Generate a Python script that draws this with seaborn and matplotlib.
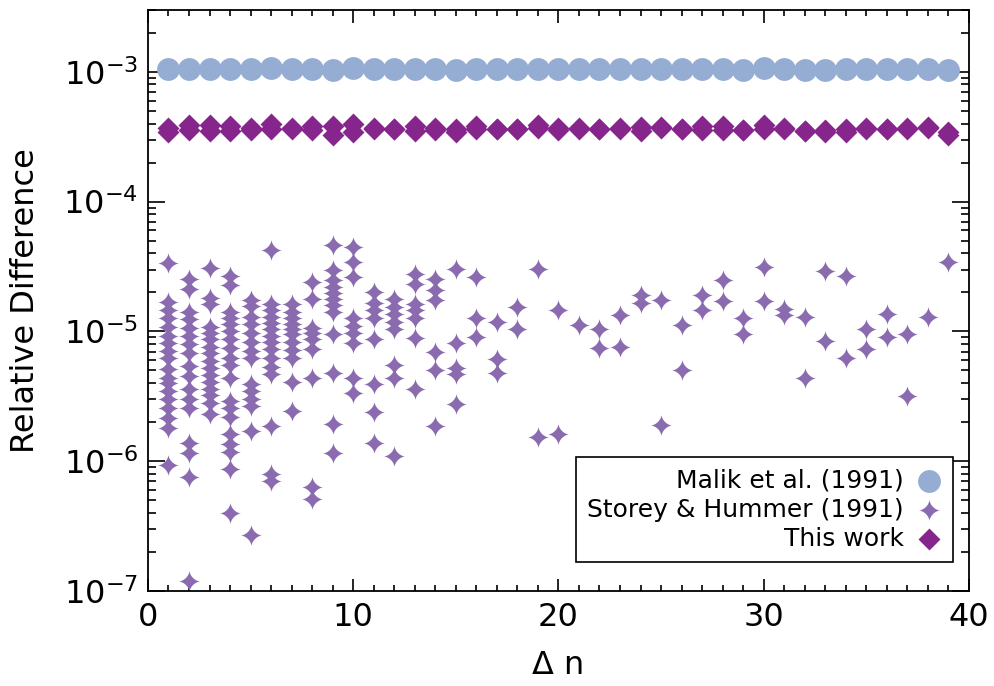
import numpy as np
import pandas as pd
import matplotlib
matplotlib.use("Agg")
import matplotlib.pyplot as plt
from matplotlib.path import Path
from matplotlib.ticker import MultipleLocator, LogLocator, NullFormatter
import seaborn as sns

# Valeurs
delta_n = list(range(1, 40))

malik = [1.05e-3, 1.06e-3, 1.06e-3, 1.05e-3, 1.06e-3, 1.08e-3, 1.05e-3, 1.05e-3, 1.03e-3, 1.08e-3,
         1.05e-3, 1.05e-3, 1.05e-3, 1.05e-3, 1.04e-3, 1.05e-3, 1.05e-3, 1.05e-3, 1.06e-3, 1.05e-3,
         1.05e-3, 1.05e-3, 1.05e-3, 1.06e-3, 1.06e-3, 1.05e-3, 1.05e-3, 1.06e-3, 1.04e-3, 1.07e-3,
         1.05e-3, 1.04e-3, 1.03e-3, 1.05e-3, 1.05e-3, 1.05e-3, 1.06e-3, 1.05e-3, 1.03e-3]

this_work_hi = [3.72e-4, 3.88e-4, 3.88e-4, 3.81e-4, 3.72e-4, 4.00e-4, 3.72e-4, 3.81e-4, 3.81e-4, 4.00e-4,
                3.72e-4, 3.66e-4, 3.81e-4, 3.72e-4, 3.66e-4, 3.81e-4, 3.66e-4, 3.66e-4, 3.88e-4, 3.72e-4,
                3.72e-4, 3.66e-4, 3.72e-4, 3.77e-4, 3.77e-4, 3.66e-4, 3.81e-4, 3.81e-4, 3.58e-4, 3.88e-4,
                3.72e-4, 3.53e-4, 3.59e-4, 3.66e-4, 3.72e-4, 3.66e-4, 3.72e-4, 3.79e-4, 3.43e-4]
this_work_lo = [3.43e-4, 3.57e-4, 3.51e-4, 3.51e-4, 3.57e-4, 3.64e-4, 3.64e-4, 3.57e-4, 3.27e-4, 3.47e-4,
                3.64e-4, 3.64e-4, 3.51e-4, 3.57e-4, 3.43e-4, 3.64e-4, 3.64e-4, 3.64e-4, 3.72e-4, 3.59e-4,
                3.64e-4, 3.64e-4, 3.64e-4, 3.51e-4, 3.72e-4, 3.64e-4, 3.57e-4, 3.57e-4, 3.55e-4, 3.64e-4,
                3.64e-4, 3.53e-4, 3.43e-4, 3.47e-4, 3.66e-4, 3.64e-4, 3.66e-4, 3.72e-4, 3.25e-4]

# Storey & Hummer : une liste par delta n
storey = [
    [3.38e-5, 1.70e-5, 1.47e-5, 1.28e-5, 1.09e-5, 9.3e-6, 8.09e-6, 7.03e-6, 6.21e-6, 5.11e-6,
     4.36e-6, 4.0e-6, 3.47e-6, 3.01e-6, 2.57e-6, 2.15e-6, 1.81e-6, 9.4e-7],
    [2.55e-5, 2.14e-5, 1.42e-5, 1.24e-5, 1.07e-5, 9.15e-6, 7.95e-6, 6.78e-6, 5.39e-6, 4.52e-6,
     3.59e-6, 3.01e-6, 2.57e-6, 1.39e-6, 1.16e-6, 7.61e-7, 1.2e-7],
    [3.09e-5, 1.82e-5, 1.64e-5, 1.09e-5, 9.8e-6, 8.68e-6, 7.54e-6, 6.78e-6, 5.89e-6, 5.21e-6,
     4.60e-6, 4.07e-6, 3.59e-6, 3.23e-6, 2.81e-6, 2.31e-6],
    [2.69e-5, 2.29e-5, 1.42e-5, 1.28e-5, 1.15e-5, 1.0e-5, 8.68e-6, 7.41e-6, 6.21e-6, 5.49e-6,
     4.36e-6, 2.91e-6, 2.57e-6, 2.19e-6, 1.62e-6, 1.36e-6, 1.18e-6, 8.76e-7, 3.96e-7],
    [1.76e-5, 1.58e-5, 1.30e-5, 1.15e-5, 9.8e-6, 8.24e-6, 7.03e-6, 6.21e-6, 3.93e-6, 3.47e-6,
     3.01e-6, 2.66e-6, 1.71e-6, 2.69e-7],
    [4.25e-5, 1.64e-5, 1.47e-5, 1.30e-5, 1.17e-5, 1.04e-5, 9.3e-6, 8.24e-6, 7.28e-6, 6.21e-6,
     5.30e-6, 4.68e-6, 1.87e-6, 8.02e-7, 7.09e-7],
    [1.64e-5, 1.42e-5, 1.28e-5, 1.15e-5, 1.05e-5, 9.5e-6, 8.24e-6, 7.15e-6, 6.21e-6, 4.07e-6, 2.44e-6],
    [2.42e-5, 1.79e-5, 1.07e-5, 9.65e-6, 8.68e-6, 7.28e-6, 4.36e-6, 6.37e-7, 5.07e-7],
    [4.64e-5, 2.99e-5, 2.50e-5, 2.21e-5, 1.99e-5, 1.79e-5, 1.61e-5, 1.42e-5, 9.5e-6, 4.77e-6,
     1.94e-6, 1.16e-6],
    [4.48e-5, 3.44e-5, 2.64e-5, 1.28e-5, 1.11e-5, 9.65e-6, 8.09e-6, 4.36e-6, 3.35e-6],
    [2.03e-5, 1.67e-5, 1.45e-5, 1.26e-5, 8.68e-6, 3.93e-6, 2.40e-6, 1.39e-6],
    [1.79e-5, 1.55e-5, 1.37e-5, 1.19e-5, 1.04e-5, 5.49e-6, 4.36e-6, 1.10e-6],
    [2.78e-5, 2.33e-5, 1.64e-5, 1.45e-5, 1.26e-5, 8.84e-6, 3.59e-6],
    [2.55e-5, 2.10e-5, 1.76e-5, 6.90e-6, 5.02e-6, 1.87e-6],
    [3.04e-5, 8.09e-6, 5.21e-6, 4.68e-6, 2.76e-6],
    [2.64e-5, 1.28e-5, 9.0e-6],
    [1.19e-5, 6.10e-6, 4.77e-6],
    [1.55e-5, 1.04e-5],
    [3.04e-5, 1.54e-6],
    [1.47e-5, 1.62e-6],
    [1.13e-5],
    [1.04e-5, 7.41e-6],
    [1.33e-5, 7.54e-6],
    [1.92e-5, 1.67e-5],
    [1.76e-5, 1.90e-6],
    [1.13e-5, 5.02e-6],
    [1.92e-5, 1.45e-5],
    [2.50e-5, 1.73e-5],
    [1.26e-5, 9.5e-6],
    [3.15e-5, 1.73e-5],
    [1.50e-5, 1.35e-5],
    [1.30e-5, 4.36e-6],
    [2.93e-5, 8.38e-6],
    [2.69e-5, 6.21e-6],
    [1.05e-5, 7.28e-6],
    [1.37e-5, 9.0e-6],
    [9.5e-6, 3.18e-6],
    [1.30e-5],
    [3.44e-5],
]

COL_MALIK = "#95acd3"
COL_STOREY = "#8b6bb0"
COL_THIS = "#86268c"

sns.set_style("white")
plt.rcParams['font.family'] = ['DejaVu Sans']
plt.rcParams['mathtext.fontset'] = 'dejavusans'
plt.rcParams['text.color'] = 'black'
plt.rcParams['axes.labelcolor'] = 'black'
plt.rcParams['xtick.color'] = 'black'
plt.rcParams['ytick.color'] = 'black'

df_malik = pd.DataFrame({"dn": delta_n, "diff": malik})
df_this = pd.DataFrame({"dn": delta_n + delta_n, "diff": this_work_hi + this_work_lo})
df_storey = pd.DataFrame({
    "dn": [n for n, vals in zip(delta_n, storey) for _ in vals],
    "diff": [v for vals in storey for v in vals],
})

# etoile a 4 branches concaves
t = np.linspace(0, 2 * np.pi, 241)
c, s = np.cos(t), np.sin(t)
star = Path(np.column_stack([np.sign(c) * np.abs(c) ** 3.2,
                             np.sign(s) * np.abs(s) ** 3.2]), closed=True)

fig = plt.figure(figsize=(9.95, 6.86), dpi=100)
ax = fig.add_axes([0.1487, 0.1385, 0.8251, 0.847])

sns.scatterplot(data=df_storey, x="dn", y="diff", marker=star, s=240,
                color=COL_STOREY, linewidth=0, ax=ax)
h_storey = ax.collections[-1]
sns.scatterplot(data=df_this, x="dn", y="diff", marker="D", s=125,
                color=COL_THIS, linewidth=0, ax=ax)
h_this = ax.collections[-1]
sns.scatterplot(data=df_malik, x="dn", y="diff", marker="o", s=270,
                color=COL_MALIK, linewidth=0, ax=ax)
h_malik = ax.collections[-1]

ax.set_yscale("log")
ax.set_xlim(0, 40)
ax.set_ylim(1e-7, 3e-3)

ax.xaxis.set_major_locator(MultipleLocator(10))
ax.xaxis.set_minor_locator(MultipleLocator(1))
ax.yaxis.set_major_locator(LogLocator(base=10, numticks=20))
ax.yaxis.set_minor_locator(LogLocator(base=10, subs=np.arange(2, 10), numticks=20))
ax.yaxis.set_minor_formatter(NullFormatter())

ax.tick_params(which="both", direction="in", left=True, bottom=True, top=True, right=True,
               color="black", width=1.2)
ax.tick_params(axis="x", which="major", length=9, labelsize=23, pad=8)
ax.tick_params(axis="x", which="minor", length=4.5)
ax.tick_params(axis="y", which="major", length=12, labelsize=23, pad=7)
ax.tick_params(axis="y", which="minor", length=6)
for sp in ax.spines.values():
    sp.set_color("black")
    sp.set_linewidth(1.3)

ax.set_xlabel("Δ n", fontsize=23, labelpad=12)
ax.set_ylabel("Relative Difference", fontsize=23, labelpad=16)

leg = ax.legend(handles=[h_malik, h_storey, h_this],
                labels=["Malik et al. (1991)", "Storey & Hummer (1991)", "This work"],
                loc="lower right", bbox_to_anchor=(0.980, 0.050), borderaxespad=0,
                markerfirst=False, frameon=True, fancybox=False, framealpha=1,
                edgecolor="black", fontsize=18, handlelength=1.0, handletextpad=0.5,
                labelspacing=0.2, borderpad=0.45)
leg.get_frame().set_linewidth(1.2)

fig.savefig("out.png", dpi=100)
plt.close(fig)
